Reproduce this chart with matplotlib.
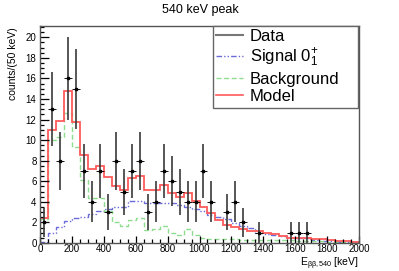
import numpy as np
import matplotlib
matplotlib.use('Agg')
import matplotlib.pyplot as plt
from matplotlib.lines import Line2D

plt.rcParams['font.family'] = ['Liberation Sans', 'DejaVu Sans']
plt.rcParams['mathtext.fontset'] = 'custom'
plt.rcParams['mathtext.rm'] = 'Liberation Sans'
plt.rcParams['mathtext.it'] = 'Liberation Sans'
plt.rcParams['mathtext.sf'] = 'Liberation Sans'

# data (40 bins of 50 keV, 0 - 2000 keV)
bin_edges = np.arange(0, 2001, 50)
data_counts = [2, 13, 8, 16, 15, 7, 4, 7, 3, 8, 5, 7, 8, 3, 4, 7, 6, 5, 4, 4,
               7, 4, 0, 3, 4, 2, 0, 1, 0, 0, 0, 1, 1, 1, 0, 0, 0, 0, 0, 0]
signal = [0.1, 1.0, 1.55, 2.1, 2.4, 2.5, 2.8, 3.1, 3.3, 3.5, 3.5, 4.1, 4.1, 3.9, 3.85, 3.85,
          3.85, 3.7, 3.5, 3.3, 3.1, 2.7, 2.55, 2.3, 1.9, 1.65, 1.45, 1.0, 0.85, 0.8,
          0.65, 0.45, 0.45, 0.45, 0.3, 0.2, 0.15, 0.1, 0.05, 0.03]
background = [2.3, 10.0, 10.35, 12.65, 9.35, 6.1, 4.4, 4.4, 3.1, 2.0, 1.7, 2.2, 2.4, 1.3, 1.4,
              1.7, 1.0, 0.75, 1.4, 0.8, 0.5, 0.4, 0.35, 0.4, 0.35, 0.3, 0.3, 0.3, 0.3, 0.25,
              0.3, 0.25, 0.2, 0.2, 0.15, 0.15, 0.1, 0.1, 0.05, 0.05]
model = [2.4, 11.0, 11.9, 14.75, 11.75, 8.6, 7.2, 7.5, 6.4, 5.5, 5.2, 6.3, 6.5, 5.2, 5.2,
         5.6, 4.85, 4.45, 4.9, 4.1, 3.5, 2.9, 2.25, 1.75, 1.55, 1.35, 1.2, 1.2, 1.0, 0.87,
         0.7, 0.5, 0.5, 0.5, 0.4, 0.35, 0.25, 0.2, 0.15, 0.1]

centers = (bin_edges[:-1] + bin_edges[1:]) / 2
counts = np.array(data_counts, dtype=float)
nz = counts > 0

fig = plt.figure(figsize=(3.99, 2.71), dpi=100)
ax = fig.add_axes([40/399, 1-243/271, 319/399, 217/271])

sig_color = '#6a6ad8'
bkg_color = '#8edc8e'
mod_color = '#ff5a5a'
sig_ls = (0, (4, 1.5, 1, 1.5, 1, 1.5))
bkg_ls = (0, (3.5, 2))

ax.stairs(signal, bin_edges, color=sig_color, lw=1.0, ls=sig_ls)
ax.stairs(background, bin_edges, color=bkg_color, lw=1.0, ls=bkg_ls)
ax.stairs(model, bin_edges, color=mod_color, lw=1.3)
# data: vertical and horizontal error bars
ax.errorbar(centers[nz], counts[nz], yerr=np.sqrt(counts[nz]), fmt='none',
            ecolor='#3a3a3a', elinewidth=1.2, capsize=0)
ax.errorbar(centers[nz], counts[nz], xerr=25, fmt='none',
            ecolor='#111111', elinewidth=0.7, capsize=0)
ax.plot(centers[nz], counts[nz], 's', ms=1.8, color='#000000')

ax.set_xlim(0, 2000)
ax.set_ylim(0, 21.1)
ax.set_xticks(np.arange(0, 2001, 200))
ax.set_xticks(np.arange(0, 2001, 50), minor=True)
ax.set_yticks(np.arange(0, 21, 2))
ax.set_yticks(np.arange(0, 21.1, 0.5), minor=True)
ax.tick_params(axis='x', which='major', direction='in', length=5, width=0.9, labelsize=7, pad=1)
ax.tick_params(axis='x', which='minor', direction='in', length=2.6, width=0.9)
ax.tick_params(axis='y', which='major', direction='in', length=6.5, width=0.9, labelsize=7, pad=2.5)
ax.tick_params(axis='y', which='minor', direction='in', length=3.2, width=0.9)
for s in ax.spines.values():
    s.set_color('#555555')
    s.set_linewidth(1.0)

# legend
handles = [
    Line2D([], [], color='#777777', lw=1.5),
    Line2D([], [], color=sig_color, lw=1.0, ls=sig_ls),
    Line2D([], [], color=bkg_color, lw=1.0, ls=bkg_ls),
    Line2D([], [], color=mod_color, lw=1.2),
]
labels = ['Data', 'Signal $0^{+}_{1}$', 'Background', 'Model']
leg = ax.legend(handles, labels, loc='upper left', mode='expand',
                bbox_to_anchor=(0.542, 0.622, 0.455, 0.378),
                borderaxespad=0, fontsize=12, frameon=True, fancybox=False,
                edgecolor='#666666', framealpha=1, handlelength=1.6,
                handletextpad=0.4, labelspacing=0.15, borderpad=0.2)
leg.get_frame().set_linewidth(1.0)

# title and labels
fig.text(200/399, 1-10/271, '540 keV peak', ha='center', va='center', fontsize=9)
fig.text(13/399, 1-27/271, 'counts/(50 keV)', rotation=90, ha='center', va='top', fontsize=7.5)
fig.text(359/399, 1-255.5/271, r'E$_{\beta\beta,540}$ [keV]', ha='right', va='top', fontsize=7.5)

plt.savefig('out.png', dpi=100)
plt.close()
